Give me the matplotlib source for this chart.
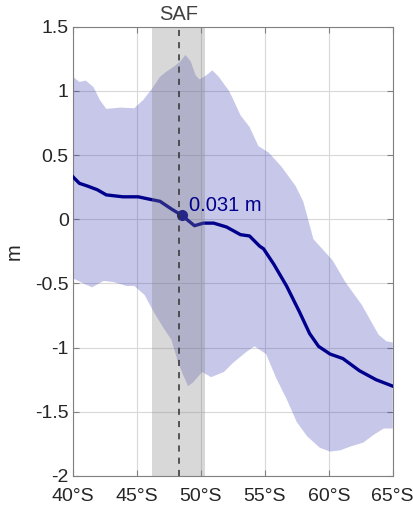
import numpy as np
import matplotlib
matplotlib.use("Agg")
import matplotlib.pyplot as plt

plt.rcParams['font.family'] = ['Liberation Sans', 'DejaVu Sans']
plt.rcParams['axes.unicode_minus'] = False

# ---- data ----
lat_upper = [40.0, 40.5, 41.0, 41.6, 42.1, 42.6, 43.7, 44.8, 45.5, 46.2, 46.8, 47.3,
             47.9, 48.4, 48.8, 49.2, 49.6, 49.9, 50.4, 50.9, 51.4, 52.2, 52.5, 53.1,
             53.8, 54.5, 55.3, 56.3, 57.4, 58.0, 58.8, 60.3, 61.3, 62.6, 63.9, 64.5, 65.0]
upper = [1.11, 1.07, 1.08, 1.03, 0.93, 0.86, 0.87, 0.865, 0.93, 1.02, 1.11, 1.15,
         1.19, 1.23, 1.28, 1.23, 1.12, 1.09, 1.12, 1.16, 1.11, 1.00, 0.94, 0.81,
         0.72, 0.57, 0.52, 0.41, 0.26, 0.14, -0.155, -0.32, -0.49, -0.67, -0.90, -0.95, -0.96]

lat_lower = [40.0, 40.8, 41.5, 42.4, 43.2, 44.2, 44.8, 45.6, 46.3, 47.1, 47.7, 48.2,
             48.6, 49.0, 49.4, 50.1, 50.8, 51.8, 52.5, 53.6, 54.2, 55.1, 55.9, 56.7,
             57.5, 58.3, 59.3, 60.1, 60.9, 61.7, 62.7, 63.5, 64.3, 65.0]
lower = [-0.46, -0.50, -0.53, -0.48, -0.49, -0.52, -0.52, -0.59, -0.72, -0.85, -0.94, -1.11,
         -1.21, -1.30, -1.27, -1.19, -1.23, -1.19, -1.12, -1.03, -0.99, -1.05, -1.24, -1.40,
         -1.58, -1.69, -1.78, -1.81, -1.80, -1.77, -1.74, -1.68, -1.63, -1.63]

lat_mean = [40.0, 40.5, 41.1, 41.9, 42.6, 43.9, 45.1, 45.8, 46.8, 47.7, 48.5, 49.5,
            50.2, 51.0, 52.0, 53.1, 53.8, 54.6, 54.9, 55.7, 56.7, 57.7, 58.5, 59.2,
            60.1, 61.1, 62.4, 63.7, 65.0]
mean = [0.33, 0.28, 0.26, 0.23, 0.19, 0.175, 0.175, 0.16, 0.14, 0.08, 0.031, -0.05,
        -0.03, -0.03, -0.06, -0.12, -0.13, -0.21, -0.23, -0.35, -0.52, -0.72, -0.89, -0.99,
        -1.05, -1.085, -1.18, -1.25, -1.30]

saf_lat = 48.3
saf_band = [46.2, 50.3]
saf_point_lat = 48.5
saf_point_val = 0.031
saf_label = "0.031 m"

xticks = [40, 45, 50, 55, 60, 65]
xticklabels = ["40°S", "45°S", "50°S", "55°S", "60°S", "65°S"]
yticks = [-2, -1.5, -1, -0.5, 0, 0.5, 1, 1.5]
yticklabels = ["-2", "-1.5", "-1", "-0.5", "0", "0.5", "1", "1.5"]

# ---- plot ----
fig = plt.figure(figsize=(4.14, 5.08), dpi=100)
ax = fig.add_axes([0.1763, 0.063, 0.7723, 0.8844])

poly_x = np.concatenate([lat_upper, lat_lower[::-1]])
poly_y = np.concatenate([upper, lower[::-1]])
ax.fill(poly_x, poly_y, color=(0.2, 0.2, 0.7), alpha=0.27, lw=0, zorder=1)

line_col = '#00008C'
ax.plot(lat_mean, mean, color=line_col, lw=2.4, zorder=3, solid_joinstyle='round')
ax.plot([saf_point_lat], [saf_point_val], 'o', color=line_col, ms=7, zorder=4)
ax.text(saf_point_lat + 0.55, saf_point_val + 0.0, saf_label, color=line_col,
        fontsize=14.5, va='bottom', ha='left', zorder=6)

ax.axvspan(saf_band[0], saf_band[1], color=(0.5, 0.5, 0.5), alpha=0.3, lw=0, zorder=5)
ax.axvline(saf_lat, color='#303030', ls=(0, (4, 4)), lw=1.1, zorder=6)

ax.set_xlim(40, 65)
ax.set_ylim(-2, 1.5)
ax.set_xticks(xticks)
ax.set_xticklabels(xticklabels)
ax.set_yticks(yticks)
ax.set_yticklabels(yticklabels)
ax.grid(True, color='#d8d8d8', lw=0.8, zorder=0)
ax.set_axisbelow(True)
ax.tick_params(direction='in', top=True, right=True, length=4, width=0.8,
               colors='#808080', labelcolor='#262626', labelsize=14, pad=3)
ax.tick_params(axis='x', pad=9)
for s in ax.spines.values():
    s.set_color('#808080')
    s.set_linewidth(0.8)

ax.set_ylabel("m", fontsize=14.5, color='#262626', labelpad=8)
ax.text(saf_lat, 1.5 + 0.02, "SAF", ha='center', va='bottom', fontsize=14.5,
        color='#404040', transform=ax.transData)

fig.savefig("out.png", dpi=100)
